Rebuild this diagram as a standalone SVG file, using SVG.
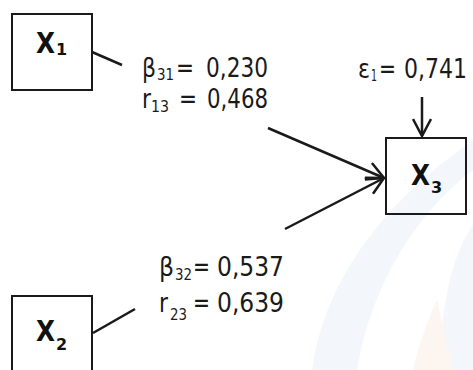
<svg xmlns="http://www.w3.org/2000/svg" width="473" height="370" viewBox="0 0 473 370">
<style>
.box{fill:none;stroke:#1a1a1a;stroke-width:2}
.ln{fill:none;stroke:#1a1a1a;stroke-width:2.5}
.lbl{font-family:"DejaVu Sans",Verdana,sans-serif;font-size:26px;fill:#1a1a1a}
.sub{font-family:"DejaVu Sans",Verdana,sans-serif;font-size:16px;fill:#1a1a1a}
.var{font-family:"DejaVu Sans",Verdana,sans-serif;font-weight:bold;font-size:28px;fill:#111}
.vsub{font-family:"DejaVu Sans",Verdana,sans-serif;font-weight:bold;font-size:16px;fill:#111}
</style>
<defs>
<marker id="arr" viewBox="0 0 20 20" refX="19" refY="10" markerWidth="20" markerHeight="20" markerUnits="userSpaceOnUse" orient="auto">
<path d="M2,1 L19,10 L2,19" fill="none" stroke="#1a1a1a" stroke-width="2.5"/>
</marker>
</defs>
<rect width="473" height="370" fill="#fff"/>
<g id="watermark" opacity="0.3">
<path d="M312,370 C322,300 360,230 440,165 L473,140 L473,170 C420,210 372,280 357,370 Z" fill="#d9e3f2"/>
<path d="M440,370 C440,300 455,250 473,225 L473,370 Z" fill="#d9e3f2"/>
<path d="M413,370 C420,340 430,315 437,300 C441,320 448,345 453,370 Z" fill="#fbe3cf"/>
</g>
<g id="connectors">
<line class="ln" x1="92" y1="52" x2="122" y2="65"/>
<line class="ln" x1="93" y1="333" x2="135" y2="309"/>
<line class="ln" x1="268" y1="128" x2="384" y2="178" marker-end="url(#arr)"/>
<line class="ln" x1="285" y1="229" x2="384" y2="178" marker-end="url(#arr)"/>
<line class="ln" x1="422" y1="97" x2="422" y2="136" marker-end="url(#arr)"/>
</g>
<g id="X1">
<rect class="box" x="12" y="14" width="80" height="76"/>
<text class="var" x="36" y="53" textLength="19" lengthAdjust="spacingAndGlyphs">X</text>
<text class="vsub" x="56" y="55">1</text>
</g>
<g id="X2">
<rect class="box" x="12" y="296" width="80" height="80"/>
<text class="var" x="36" y="341" textLength="19" lengthAdjust="spacingAndGlyphs">X</text>
<text class="vsub" x="56" y="350">2</text>
</g>
<g id="X3">
<rect class="box" x="386" y="138" width="80" height="76"/>
<text class="var" x="411" y="185" textLength="19" lengthAdjust="spacingAndGlyphs">X</text>
<text class="vsub" x="431" y="193">3</text>
</g>
<g id="label-x1">
<text class="lbl" x="142" y="77" textLength="14" lengthAdjust="spacingAndGlyphs">β</text>
<text class="sub" x="157" y="80" textLength="17" lengthAdjust="spacingAndGlyphs">31</text>
<text class="lbl" x="176" y="77" textLength="18" lengthAdjust="spacingAndGlyphs">=</text>
<text class="lbl" x="206" y="77" textLength="62" lengthAdjust="spacingAndGlyphs">0,230</text>
<text class="lbl" x="142" y="108" textLength="9" lengthAdjust="spacingAndGlyphs">r</text>
<text class="sub" x="151" y="112" textLength="18" lengthAdjust="spacingAndGlyphs">13</text>
<text class="lbl" x="179" y="108" textLength="18" lengthAdjust="spacingAndGlyphs">=</text>
<text class="lbl" x="207" y="108" textLength="61" lengthAdjust="spacingAndGlyphs">0,468</text>
</g>
<g id="label-e1">
<text class="lbl" x="358" y="78" textLength="12" lengthAdjust="spacingAndGlyphs">ε</text>
<text class="sub" x="371" y="81" textLength="6" lengthAdjust="spacingAndGlyphs">1</text>
<text class="lbl" x="379" y="78" textLength="17" lengthAdjust="spacingAndGlyphs">=</text>
<text class="lbl" x="404" y="78" textLength="63" lengthAdjust="spacingAndGlyphs">0,741</text>
</g>
<g id="label-x2">
<text class="lbl" x="159" y="276" textLength="15" lengthAdjust="spacingAndGlyphs">β</text>
<text class="sub" x="175" y="280" textLength="17" lengthAdjust="spacingAndGlyphs">32</text>
<text class="lbl" x="193" y="276" textLength="17" lengthAdjust="spacingAndGlyphs">=</text>
<text class="lbl" x="217" y="276" textLength="67" lengthAdjust="spacingAndGlyphs">0,537</text>
<text class="lbl" x="159" y="312" textLength="9" lengthAdjust="spacingAndGlyphs">r</text>
<text class="sub" x="170" y="320" textLength="17" lengthAdjust="spacingAndGlyphs">23</text>
<text class="lbl" x="193" y="312" textLength="17" lengthAdjust="spacingAndGlyphs">=</text>
<text class="lbl" x="217" y="312" textLength="67" lengthAdjust="spacingAndGlyphs">0,639</text>
</g>
</svg>
